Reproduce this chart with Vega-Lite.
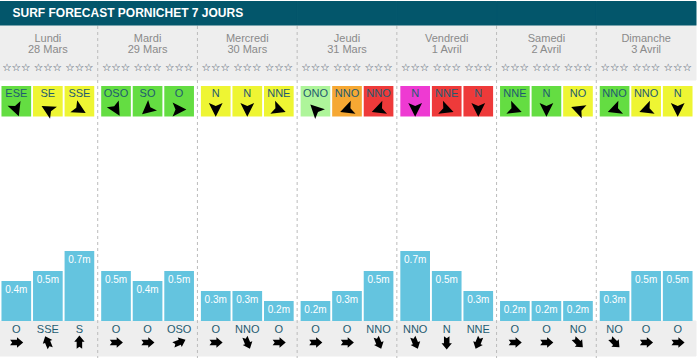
{
  "$schema": "https://vega.github.io/schema/vega-lite/v6.json",
  "width": 697,
  "height": 358,
  "autosize": "none",
  "padding": 0,
  "background": "white",
  "config": {"view": {"stroke": null}, "font": "Liberation Sans"},
  "datasets": {
    "jours": [
      {"jour": "Lundi", "date": "28 Mars"},
      {"jour": "Mardi", "date": "29 Mars"},
      {"jour": "Mercredi", "date": "30 Mars"},
      {"jour": "Jeudi", "date": "31 Mars"},
      {"jour": "Vendredi", "date": "1 Avril"},
      {"jour": "Samedi", "date": "2 Avril"},
      {"jour": "Dimanche", "date": "3 Avril"}
    ],
    "titre": [{"jour": "Lundi", "titre": "SURF FORECAST PORNICHET 7 JOURS"}],
    "creneaux": [
      {"jour": "Lundi", "creneau": 1, "vent": "ESE", "couleurVent": "vert", "angleVent": 160, "hauteur": 0.4, "houle": "O", "angleHoule": 90},
      {"jour": "Lundi", "creneau": 2, "vent": "SE", "couleurVent": "jaune", "angleVent": 300, "hauteur": 0.5, "houle": "SSE", "angleHoule": 337.5},
      {"jour": "Lundi", "creneau": 3, "vent": "SSE", "couleurVent": "jaune", "angleVent": 120, "hauteur": 0.7, "houle": "S", "angleHoule": 0},
      {"jour": "Mardi", "creneau": 1, "vent": "OSO", "couleurVent": "vert", "angleVent": 150, "hauteur": 0.5, "houle": "O", "angleHoule": 90},
      {"jour": "Mardi", "creneau": 2, "vent": "SO", "couleurVent": "vert", "angleVent": 230, "hauteur": 0.4, "houle": "O", "angleHoule": 90},
      {"jour": "Mardi", "creneau": 3, "vent": "O", "couleurVent": "vert", "angleVent": 90, "hauteur": 0.5, "houle": "OSO", "angleHoule": 67.5},
      {"jour": "Mercredi", "creneau": 1, "vent": "N", "couleurVent": "jaune", "angleVent": 180, "hauteur": 0.3, "houle": "O", "angleHoule": 90},
      {"jour": "Mercredi", "creneau": 2, "vent": "N", "couleurVent": "jaune", "angleVent": 180, "hauteur": 0.3, "houle": "NNO", "angleHoule": 157.5},
      {"jour": "Mercredi", "creneau": 3, "vent": "NNE", "couleurVent": "jaune", "angleVent": 110, "hauteur": 0.2, "houle": "O", "angleHoule": 90},
      {"jour": "Jeudi", "creneau": 1, "vent": "ONO", "couleurVent": "vert clair", "angleVent": 315, "hauteur": 0.2, "houle": "O", "angleHoule": 90},
      {"jour": "Jeudi", "creneau": 2, "vent": "NNO", "couleurVent": "orange", "angleVent": 250, "hauteur": 0.3, "houle": "O", "angleHoule": 90},
      {"jour": "Jeudi", "creneau": 3, "vent": "NNO", "couleurVent": "rouge", "angleVent": 250, "hauteur": 0.5, "houle": "NNO", "angleHoule": 157.5},
      {"jour": "Vendredi", "creneau": 1, "vent": "N", "couleurVent": "magenta", "angleVent": 180, "hauteur": 0.7, "houle": "NNO", "angleHoule": 157.5},
      {"jour": "Vendredi", "creneau": 2, "vent": "NNE", "couleurVent": "rouge", "angleVent": 110, "hauteur": 0.5, "houle": "N", "angleHoule": 180},
      {"jour": "Vendredi", "creneau": 3, "vent": "N", "couleurVent": "rouge", "angleVent": 180, "hauteur": 0.3, "houle": "NNE", "angleHoule": 202.5},
      {"jour": "Samedi", "creneau": 1, "vent": "NNE", "couleurVent": "vert", "angleVent": 110, "hauteur": 0.2, "houle": "O", "angleHoule": 90},
      {"jour": "Samedi", "creneau": 2, "vent": "N", "couleurVent": "vert", "angleVent": 180, "hauteur": 0.2, "houle": "O", "angleHoule": 90},
      {"jour": "Samedi", "creneau": 3, "vent": "NO", "couleurVent": "jaune", "angleVent": 290, "hauteur": 0.2, "houle": "NO", "angleHoule": 135},
      {"jour": "Dimanche", "creneau": 1, "vent": "NNO", "couleurVent": "vert", "angleVent": 250, "hauteur": 0.3, "houle": "NO", "angleHoule": 135},
      {"jour": "Dimanche", "creneau": 2, "vent": "NNO", "couleurVent": "jaune", "angleVent": 250, "hauteur": 0.5, "houle": "O", "angleHoule": 90},
      {"jour": "Dimanche", "creneau": 3, "vent": "N", "couleurVent": "jaune", "angleVent": 180, "hauteur": 0.5, "houle": "O", "angleHoule": 90}
    ]
  },
  "layer": [
    {
      "data": {"name": "jours"},
      "mark": {"type": "bar", "color": "#03566B", "stroke": "#03566B", "strokeWidth": 1},
      "encoding": {
        "x": {"field": "jour", "type": "nominal", "sort": null, "axis": null,
              "scale": {"type": "band", "domain": ["Lundi", "Mardi", "Mercredi", "Jeudi", "Vendredi", "Samedi", "Dimanche"], "range": [-2, 696], "paddingInner": 0, "paddingOuter": 0}},
        "y": {"datum": 3.195, "type": "quantitative", "axis": null, "scale": {"domain": [-0.37, 3.21], "nice": false, "zero": false}},
        "y2": {"datum": 2.955}
      }
    },
    {
      "data": {"name": "jours"},
      "mark": {"type": "bar", "color": "#EEEEEE", "stroke": "#EEEEEE", "strokeWidth": 1},
      "encoding": {
        "x": {"field": "jour", "type": "nominal", "sort": null, "axis": null},
        "y": {"datum": 2.95, "type": "quantitative"},
        "y2": {"datum": 2.41}
      }
    },
    {
      "data": {"name": "jours"},
      "mark": {"type": "bar", "color": "#EEEEEE", "stroke": "#EEEEEE", "strokeWidth": 1},
      "encoding": {
        "x": {"field": "jour", "type": "nominal", "sort": null, "axis": null},
        "y": {"datum": 0, "type": "quantitative"},
        "y2": {"datum": -0.35}
      }
    },
    {
      "data": {"name": "jours"},
      "transform": [{"filter": "datum.jour != 'Dimanche'"}],
      "mark": {"type": "rule", "color": "#BBBBBB", "strokeWidth": 1, "strokeDash": [3, 3]},
      "encoding": {
        "x": {"field": "jour", "type": "nominal", "sort": null, "axis": null, "bandPosition": 1},
        "y": {"datum": 2.95, "type": "quantitative"},
        "y2": {"datum": -0.37}
      }
    },
    {
      "data": {"name": "titre"},
      "mark": {"type": "text", "align": "left", "baseline": "alphabetic", "dx": 14.5, "fontSize": 12, "fontWeight": "bold", "color": "white", "font": "Liberation Sans"},
      "encoding": {
        "x": {"field": "jour", "type": "nominal", "sort": null, "axis": null, "bandPosition": 0},
        "y": {"datum": 3.037, "type": "quantitative"},
        "text": {"field": "titre"}
      }
    },
    {
      "data": {"name": "jours"},
      "mark": {"type": "text", "baseline": "alphabetic", "fontSize": 11, "color": "#8a8a8a"},
      "encoding": {
        "x": {"field": "jour", "type": "nominal", "sort": null, "axis": null},
        "y": {"datum": 2.793, "type": "quantitative"},
        "text": {"field": "jour"}
      }
    },
    {
      "data": {"name": "jours"},
      "mark": {"type": "text", "baseline": "alphabetic", "fontSize": 11, "color": "#8a8a8a"},
      "encoding": {
        "x": {"field": "jour", "type": "nominal", "sort": null, "axis": null},
        "y": {"datum": 2.677, "type": "quantitative"},
        "text": {"field": "date"}
      }
    },
    {
      "data": {"name": "creneaux"},
      "mark": {"type": "text", "baseline": "middle", "fontSize": 10.5, "fontWeight": "bold", "color": "#3c4d5c", "font": "DejaVu Sans", "text": "☆☆☆"},
      "encoding": {
        "x": {"field": "jour", "type": "nominal", "sort": null, "axis": null},
        "xOffset": {"field": "creneau", "type": "nominal", "scale": {"paddingInner": 0.06, "paddingOuter": 0.11}},
        "y": {"datum": 2.535, "type": "quantitative"}
      }
    },
    {
      "data": {"name": "creneaux"},
      "mark": {"type": "bar"},
      "encoding": {
        "x": {"field": "jour", "type": "nominal", "sort": null, "axis": null},
        "xOffset": {"field": "creneau", "type": "nominal", "scale": {"paddingInner": 0.06, "paddingOuter": 0.11}},
        "y": {"datum": 2.35, "type": "quantitative"},
        "y2": {"datum": 2.045},
        "color": {"field": "couleurVent", "type": "nominal", "legend": null,
                  "scale": {"domain": ["vert", "jaune", "vert clair", "orange", "rouge", "magenta"],
                            "range": ["#64DD42", "#EEF533", "#AEF59A", "#F6A833", "#EE3A3A", "#EE3AD2"]}}
      }
    },
    {
      "data": {"name": "creneaux"},
      "mark": {"type": "text", "baseline": "alphabetic", "fontSize": 11, "color": "#1F5B70"},
      "encoding": {
        "x": {"field": "jour", "type": "nominal", "sort": null, "axis": null},
        "xOffset": {"field": "creneau", "type": "nominal", "scale": {"paddingInner": 0.06, "paddingOuter": 0.11}},
        "y": {"datum": 2.237, "type": "quantitative"},
        "text": {"field": "vent"}
      }
    },
    {
      "data": {"name": "creneaux"},
      "mark": {"type": "point", "filled": true, "opacity": 1, "color": "black", "size": 210,
               "shape": "M0,-1L0.95,0.9L0,0.5L-0.95,0.9Z"},
      "encoding": {
        "x": {"field": "jour", "type": "nominal", "sort": null, "axis": null},
        "xOffset": {"field": "creneau", "type": "nominal", "scale": {"paddingInner": 0.06, "paddingOuter": 0.11}},
        "y": {"datum": 2.115, "type": "quantitative"},
        "angle": {"field": "angleVent", "type": "quantitative", "scale": null}
      }
    },
    {
      "data": {"name": "creneaux"},
      "mark": {"type": "bar", "color": "#64C4DF"},
      "encoding": {
        "x": {"field": "jour", "type": "nominal", "sort": null, "axis": null},
        "xOffset": {"field": "creneau", "type": "nominal", "scale": {"paddingInner": 0.06, "paddingOuter": 0.11}},
        "y": {"field": "hauteur", "type": "quantitative"},
        "y2": {"datum": 0}
      }
    },
    {
      "data": {"name": "creneaux"},
      "mark": {"type": "text", "baseline": "alphabetic", "dy": 12.3, "fontSize": 10, "color": "white",
               "text": {"expr": "format(datum.hauteur, '.1f') + 'm'"}},
      "encoding": {
        "x": {"field": "jour", "type": "nominal", "sort": null, "axis": null},
        "xOffset": {"field": "creneau", "type": "nominal", "scale": {"paddingInner": 0.06, "paddingOuter": 0.11}},
        "y": {"field": "hauteur", "type": "quantitative"}
      }
    },
    {
      "data": {"name": "creneaux"},
      "mark": {"type": "text", "baseline": "alphabetic", "fontSize": 11, "color": "#1F5B70"},
      "encoding": {
        "x": {"field": "jour", "type": "nominal", "sort": null, "axis": null},
        "xOffset": {"field": "creneau", "type": "nominal", "scale": {"paddingInner": 0.06, "paddingOuter": 0.11}},
        "y": {"datum": -0.123, "type": "quantitative"},
        "text": {"field": "houle"}
      }
    },
    {
      "data": {"name": "creneaux"},
      "mark": {"type": "point", "filled": true, "opacity": 1, "color": "black", "size": 190,
               "shape": "M0,-1L0.75,-0.1L0.4,-0.1L0.4,0.9L0,0.6L-0.4,0.9L-0.4,-0.1L-0.75,-0.1Z"},
      "encoding": {
        "x": {"field": "jour", "type": "nominal", "sort": null, "axis": null},
        "xOffset": {"field": "creneau", "type": "nominal", "scale": {"paddingInner": 0.06, "paddingOuter": 0.11}},
        "y": {"datum": -0.215, "type": "quantitative"},
        "angle": {"field": "angleHoule", "type": "quantitative", "scale": null}
      }
    }
  ]
}
